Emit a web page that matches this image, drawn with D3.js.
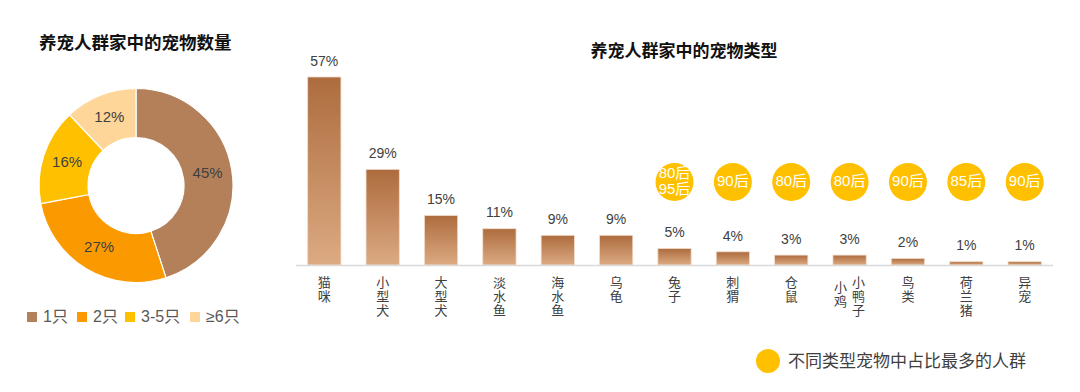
<!DOCTYPE html>
<html><head><meta charset="utf-8">
<script src="https://cdn.jsdelivr.net/npm/d3@7/dist/d3.min.js"></script>
<style>
body{margin:0;background:#fff;}
svg{display:block;font-family:"Liberation Sans","Noto Sans CJK SC",sans-serif;}
</style></head>
<body><svg id="c" width="1080" height="392"></svg>
<script>
// Donut data
const countLabels = ["1只", "2只", "3-5只", "≥6只"];
const countValues = [45, 27, 16, 12];
const countColors = ["#B3805A", "#FB9A00", "#FFC000", "#FFD699"];

// Bar data
const petTypes = ["猫咪", "小型犬", "大型犬", "淡水鱼", "海水鱼", "乌龟", "兔子", "刺猬", "仓鼠", "小鸡/小鸭子", "鸟类", "荷兰猪", "异宠"];
const petValues = [57, 29, 15, 11, 9, 9, 5, 4, 3, 3, 2, 1, 1];
const topGroup = ["", "", "", "", "", "", "80后/95后", "90后", "80后", "80后", "90后", "85后", "90后"];

const svg = d3.select("#c");
const textColor = "#404040";
const cjk = "'Noto Sans CJK SC',sans-serif";

// ---------- Donut ----------
svg.append("text").attr("x", 39).attr("y", 44).attr("dominant-baseline", "middle")
  .attr("font-size", 17.5).attr("font-weight", "bold").attr("fill", "#111").attr("font-family", cjk)
  .text("养宠人群家中的宠物数量");

const pie = d3.pie().sort(null).value(d => d)(countValues);
const arc = d3.arc().innerRadius(48).outerRadius(97);
const g = svg.append("g").attr("transform", "translate(136,185.5)");
g.selectAll("path").data(pie).join("path")
  .attr("d", arc).attr("fill", (d, i) => countColors[i])
  .attr("stroke", "#fff").attr("stroke-width", 1.2);
g.selectAll("text").data(pie).join("text")
  .attr("transform", d => `translate(${arc.centroid(d)})`)
  .attr("text-anchor", "middle").attr("dominant-baseline", "middle")
  .attr("font-size", 15).attr("fill", textColor)
  .text(d => d.data + "%");

// legend
const legX = [27, 77, 125, 190];
const lg = svg.append("g");
countLabels.forEach((l, i) => {
  lg.append("rect").attr("x", legX[i]).attr("y", 312).attr("width", 10).attr("height", 10).attr("fill", countColors[i]);
  lg.append("text").attr("x", legX[i] + 16).attr("y", 318).attr("dominant-baseline", "middle")
    .attr("font-size", 16).attr("fill", "#595959").text(l);
});

// ---------- Bars ----------
svg.append("text").attr("x", 684).attr("y", 52).attr("text-anchor", "middle").attr("dominant-baseline", "middle")
  .attr("font-size", 17).attr("font-weight", "bold").attr("fill", "#111").attr("font-family", cjk)
  .text("养宠人群家中的宠物类型");

const x = d3.scaleBand().domain(petTypes).range([296, 1053]).paddingInner(0.43).paddingOuter(0.2);
const y = d3.scaleLinear().domain([0, 57]).range([265, 77]);

const defs = svg.append("defs");
const grad = defs.append("linearGradient").attr("id", "bg").attr("x1", 0).attr("y1", 0).attr("x2", 0).attr("y2", 1);
grad.append("stop").attr("offset", "0%").attr("stop-color", "#AD6C3E");
grad.append("stop").attr("offset", "100%").attr("stop-color", "#DCAA82");

svg.append("g").selectAll("rect").data(petTypes).join("rect")
  .attr("x", d => x(d)).attr("width", x.bandwidth())
  .attr("y", (d, i) => y(petValues[i])).attr("height", (d, i) => y(0) - y(petValues[i]))
  .attr("fill", "url(#bg)").attr("stroke", "#F1DCCB").attr("stroke-width", 0.8);

// axis line
svg.append("line").attr("x1", 296).attr("x2", 1053).attr("y1", 265.5).attr("y2", 265.5)
  .attr("stroke", "#D9D9D9").attr("stroke-width", 1.5);

// value labels
svg.append("g").selectAll("text").data(petTypes).join("text")
  .attr("x", d => x(d) + x.bandwidth() / 2).attr("y", (d, i) => y(petValues[i]) - 15)
  .attr("text-anchor", "middle").attr("dominant-baseline", "middle")
  .attr("font-size", 14).attr("fill", textColor)
  .text((d, i) => petValues[i] + "%");

// category labels (vertical)
const cg = svg.append("g").attr("font-family", cjk);
function vtext(cx, y0, str) {
  cg.append("text").attr("x", cx).attr("y", y0)
    .style("writing-mode", "vertical-rl").style("text-orientation", "upright")
    .attr("letter-spacing", 1)
    .attr("font-size", 13).attr("fill", textColor).text(str);
}
petTypes.forEach(c => {
  const cx = x(c) + x.bandwidth() / 2;
  const parts = c.split("/");
  if (parts.length === 1) {
    vtext(cx, 276, c);
  } else {
    vtext(cx - 9, 281, parts[0]);
    vtext(cx + 9, 276, parts[1]);
  }
});

// group bubbles
const bg2 = svg.append("g");
petTypes.forEach((c, i) => {
  if (!topGroup[i]) return;
  const cx = x(c) + x.bandwidth() / 2;
  bg2.append("circle").attr("cx", cx).attr("cy", 182).attr("r", 19).attr("fill", "#FFC000");
  const lines = topGroup[i].split("/");
  lines.forEach((t, j) => {
    bg2.append("text").attr("x", cx).attr("y", 182 + (j - (lines.length - 1) / 2) * 16)
      .attr("text-anchor", "middle").attr("dominant-baseline", "middle")
      .attr("font-size", 15).attr("fill", "#fff").text(t);
  });
});

// bottom-right legend
svg.append("circle").attr("cx", 768).attr("cy", 361).attr("r", 12).attr("fill", "#FFC000");
svg.append("text").attr("x", 788).attr("y", 362).attr("dominant-baseline", "middle")
  .attr("font-size", 17).attr("fill", textColor).attr("font-family", cjk).text("不同类型宠物中占比最多的人群");
</script></body></html>
